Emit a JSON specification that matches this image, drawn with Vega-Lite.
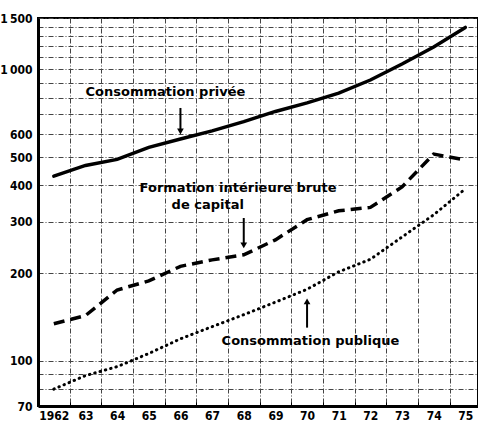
{
  "$schema": "https://vega.github.io/schema/vega-lite/v6.json",
  "width": 440,
  "height": 388,
  "autosize": {"type": "none"},
  "padding": {"left": 38, "top": 18, "right": 0, "bottom": 20},
  "background": "white",
  "config": {
    "view": {"stroke": "black", "strokeWidth": 2},
    "axis": {"labelFont": "Liberation Sans Narrow, DejaVu Sans Condensed", "labelFontWeight": "bold", "labelFontSize": 12, "labelColor": "black"}
  },
  "datasets": {
    "series": [
      {"annee": 1962, "serie": "privee", "valeur": 430},
      {"annee": 1963, "serie": "privee", "valeur": 468},
      {"annee": 1964, "serie": "privee", "valeur": 491},
      {"annee": 1965, "serie": "privee", "valeur": 540},
      {"annee": 1966, "serie": "privee", "valeur": 577},
      {"annee": 1967, "serie": "privee", "valeur": 615},
      {"annee": 1968, "serie": "privee", "valeur": 662},
      {"annee": 1969, "serie": "privee", "valeur": 717},
      {"annee": 1970, "serie": "privee", "valeur": 767},
      {"annee": 1971, "serie": "privee", "valeur": 829},
      {"annee": 1972, "serie": "privee", "valeur": 919},
      {"annee": 1973, "serie": "privee", "valeur": 1043},
      {"annee": 1974, "serie": "privee", "valeur": 1193},
      {"annee": 1975, "serie": "privee", "valeur": 1392},
      {"annee": 1962, "serie": "fbcf", "valeur": 134},
      {"annee": 1963, "serie": "fbcf", "valeur": 143},
      {"annee": 1964, "serie": "fbcf", "valeur": 175},
      {"annee": 1965, "serie": "fbcf", "valeur": 188},
      {"annee": 1966, "serie": "fbcf", "valeur": 211},
      {"annee": 1967, "serie": "fbcf", "valeur": 222},
      {"annee": 1968, "serie": "fbcf", "valeur": 231},
      {"annee": 1969, "serie": "fbcf", "valeur": 260},
      {"annee": 1970, "serie": "fbcf", "valeur": 305},
      {"annee": 1971, "serie": "fbcf", "valeur": 327},
      {"annee": 1972, "serie": "fbcf", "valeur": 336},
      {"annee": 1973, "serie": "fbcf", "valeur": 395},
      {"annee": 1974, "serie": "fbcf", "valeur": 512},
      {"annee": 1975, "serie": "fbcf", "valeur": 489},
      {"annee": 1962, "serie": "publique", "valeur": 80},
      {"annee": 1963, "serie": "publique", "valeur": 89},
      {"annee": 1964, "serie": "publique", "valeur": 95.5},
      {"annee": 1965, "serie": "publique", "valeur": 106},
      {"annee": 1966, "serie": "publique", "valeur": 119},
      {"annee": 1967, "serie": "publique", "valeur": 131},
      {"annee": 1968, "serie": "publique", "valeur": 144},
      {"annee": 1969, "serie": "publique", "valeur": 159},
      {"annee": 1970, "serie": "publique", "valeur": 176},
      {"annee": 1971, "serie": "publique", "valeur": 202},
      {"annee": 1972, "serie": "publique", "valeur": 223},
      {"annee": 1973, "serie": "publique", "valeur": 266},
      {"annee": 1974, "serie": "publique", "valeur": 317},
      {"annee": 1975, "serie": "publique", "valeur": 389}
    ],
    "labels": [
      {"texte": "Consommation privée", "annee": 1963.0, "valeur": 836},
      {"texte": "Formation intérieure brute", "annee": 1964.71, "valeur": 392},
      {"texte": "de capital", "annee": 1965.72, "valeur": 342},
      {"texte": "Consommation publique", "annee": 1967.3, "valeur": 117}
    ],
    "arrows": [
      {"annee": 1966.0, "debut": 737, "fin": 615, "tete": 612, "forme": "triangle-down"},
      {"annee": 1968.0, "debut": 309, "fin": 250, "tete": 249, "forme": "triangle-down"},
      {"annee": 1970.0, "debut": 130, "fin": 160, "tete": 160, "forme": "triangle-up"}
    ]
  },
  "encoding": {
    "x": {
      "field": "annee", "type": "quantitative",
      "scale": {"domain": [1961.5, 1975.4], "nice": false, "zero": false},
      "axis": {
        "title": null,
        "values": [1962, 1963, 1964, 1965, 1966, 1967, 1968, 1969, 1970, 1971, 1972, 1973, 1974, 1975],
        "labelExpr": "datum.value == 1962 ? '1962' : substring(toString(datum.value), 2)",
        "tickOffset": 15.82,
        "labelOffset": -15.82,
        "ticks": true, "tickSize": -4, "tickColor": "black",
        "grid": true, "gridColor": "#444", "gridWidth": 1, "gridDash": [5, 2, 1, 2],
        "domainColor": "black", "domainWidth": 3,
        "labelPadding": 8, "labelFlush": false
      }
    },
    "y": {
      "field": "valeur", "type": "quantitative",
      "scale": {"type": "log", "domain": [70, 1500], "nice": false},
      "axis": {
        "title": null,
        "values": [70, 80, 90, 100, 200, 300, 400, 500, 600, 700, 800, 900, 1000, 1100, 1200, 1300, 1400, 1500],
        "format": "d",
        "labelExpr": "datum.value == 1500 ? '1\u2009500' : datum.value == 1000 ? '1\u2009000' : (datum.value == 70 || datum.value == 100 || datum.value == 200 || datum.value == 300 || datum.value == 400 || datum.value == 500 || datum.value == 600) ? datum.label : ''",
        "ticks": false,
        "grid": true, "gridColor": "#444", "gridWidth": 1, "gridDash": [5, 2, 1, 2],
        "domainColor": "black", "domainWidth": 3,
        "labelPadding": 6, "labelFlush": false
      }
    }
  },
  "layer": [
    {
      "data": {"name": "series"},
      "transform": [{"filter": "datum.serie == 'privee'"}],
      "mark": {"type": "line", "color": "black", "strokeWidth": 3.5, "strokeCap": "round"}
    },
    {
      "data": {"name": "series"},
      "transform": [{"filter": "datum.serie == 'fbcf'"}],
      "mark": {"type": "line", "color": "black", "strokeWidth": 3.5, "strokeDash": [11, 6]}
    },
    {
      "data": {"name": "series"},
      "transform": [{"filter": "datum.serie == 'publique'"}],
      "mark": {"type": "line", "color": "black", "strokeWidth": 3, "strokeDash": [0.5, 5], "strokeCap": "round"}
    },
    {
      "data": {"name": "labels"},
      "mark": {"type": "text", "align": "left", "baseline": "middle", "font": "DejaVu Sans", "fontSize": 13, "fontWeight": "bold", "color": "black"},
      "encoding": {"text": {"field": "texte"}}
    },
    {
      "data": {"name": "arrows"},
      "mark": {"type": "rule", "color": "black", "strokeWidth": 2},
      "encoding": {"y": {"field": "debut", "type": "quantitative"}, "y2": {"field": "fin"}}
    },
    {
      "data": {"name": "arrows"},
      "mark": {"type": "point", "filled": true, "color": "black", "size": 45, "opacity": 1},
      "encoding": {"y": {"field": "tete", "type": "quantitative"}, "shape": {"field": "forme", "type": "nominal", "scale": null}}
    }
  ]
}
